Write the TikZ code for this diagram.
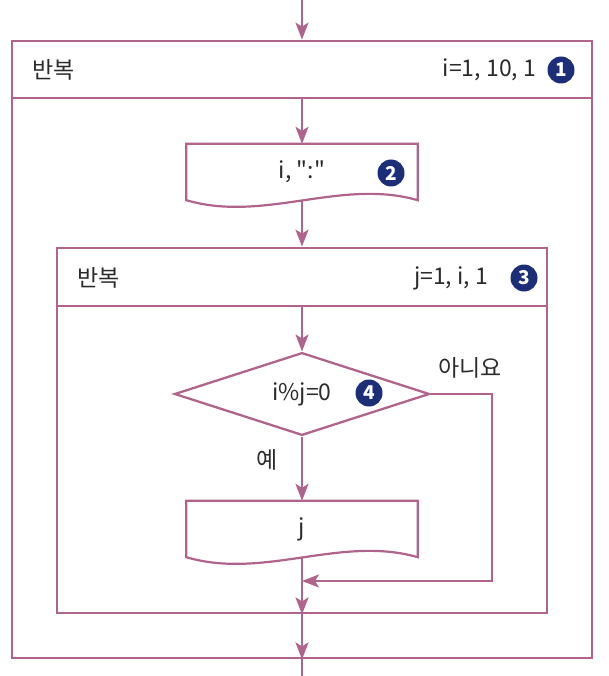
\documentclass[tikz,border=0pt]{standalone}
\usepackage{fontspec}
\setmainfont{Noto Sans CJK KR}[Ligatures=TeXOff]
\usepackage{xcolor}
\usetikzlibrary{positioning,arrows.meta,shapes.geometric}
\definecolor{wine}{HTML}{B0648C}
\definecolor{navy}{HTML}{1C2E78}
\definecolor{ink}{HTML}{2B2B2B}

\begin{document}
\begin{tikzpicture}[x=1pt, y=-1pt,
  % loop blocks: a header strip sitting on a body, both plain rectangles
  frame/.style  = {draw=wine, line width=2.8pt, inner sep=0pt},
  % output boxes get their wavy outline drawn by hand further down
  outbox/.style = {inner sep=0pt, minimum width=231pt, minimum height=56pt,
                   font=\fontsize{23}{27}\selectfont, text=ink},
  test/.style   = {diamond, draw=wine, line width=2.3pt, inner sep=0pt,
                   minimum width=255pt, minimum height=82pt,
                   font=\fontsize{23}{27}\selectfont, text=ink},
  txt/.style    = {font=\fontsize{23}{27}\selectfont, text=ink, inner sep=0pt},
  num/.style    = {circle, fill=navy, text=white, inner sep=0pt, minimum size=27pt,
                   font=\fontsize{19}{19}\selectfont\bfseries},
  wave/.style   = {draw=wine, line width=2.2pt},
  flow/.style   = {-{Stealth[length=17pt, width=13pt, inset=4pt]}, draw=wine, line width=2.2pt},
  wire/.style   = {draw=wine, line width=2.2pt},
]
\useasboundingbox (0,0) rectangle (609,676);

% ------------------------------------------------------------ outer loop --
\node[frame, minimum width=580pt, minimum height=57pt]  (head1) at (302,69.5) {};
\node[frame, minimum width=580pt, minimum height=560pt] (body1) at (302,378) {};
\node[txt, anchor=west] (kw1) at (32,70) {반복};
\node[num] (n1) at (561,70) {1};
\node[txt, left=11pt of n1] (range1) {i=1, 10, 1};

\node[outbox] (out1) at (302,172) {i, ":"};
\node[num] (n2) at (391,173) {2};

% ------------------------------------------------------------ inner loop --
\node[frame, minimum width=490pt, minimum height=58pt]  (head2) at (302,277) {};
\node[frame, minimum width=490pt, minimum height=307pt] (body2) at (302,459.5) {};
\node[txt, anchor=west] (kw2) at (77,278) {반복};
\node[num] (n3) at (524,278) {3};
\node[txt, left=22pt of n3] (range2) {j=1, i, 1};

\node[test] (cond) at (302,394) {i\%j=0};
\node[num] (n4) at (369,393) {4};
\node[txt] (no)  at (470,368) {아니요};
\node[txt] (yes) at (267,460) {예};

\node[outbox] (out2) at (302,529) {j};

% ------------------------------------------------------ document outlines --
\draw[wave] (out1.south east) .. controls (341,178) and (264,223) .. (out1.south west)
  -- (out1.north west) -- (out1.north east) -- cycle;
\draw[wave] (out2.south east) .. controls (341,535) and (264,580) .. (out2.south west)
  -- (out2.north west) -- (out2.north east) -- cycle;

% ---------------------------------------------------------------- arrows --
\coordinate (entry) at (302,0);
\coordinate (exit)  at (302,676);
\coordinate (back)  at (302,581);
\coordinate (side)  at (492,581);

\draw[flow] (entry) -- (head1.north);
\draw[flow] (head1.south) -- (out1.north);
\draw[flow] (out1.south) -- (head2.north);
\draw[flow] (head2.south) -- (cond.north);
\draw[flow] (cond.south) -- (out2.north);
\draw[flow] (cond.east) -| (side) -- (back);
\draw[flow] (out2.south) -- (body2.south);
\draw[flow] (body2.south) -- (body1.south);
\draw[wire] (body1.south) -- (exit);

\end{tikzpicture}
\end{document}
